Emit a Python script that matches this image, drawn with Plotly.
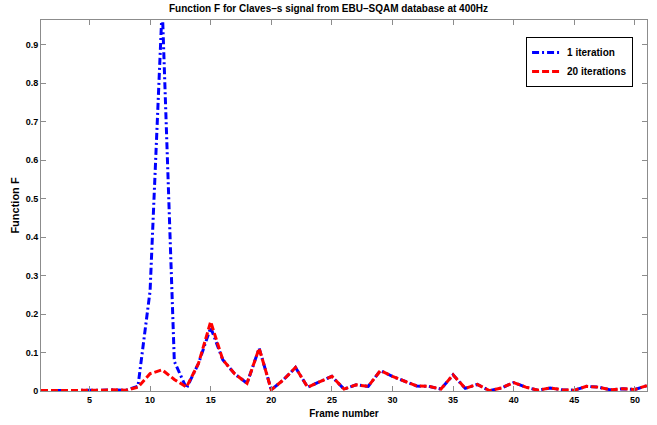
import plotly.graph_objects as go

frames = list(range(1, 52))
f_1iter = [0.001, 0.001, 0.001, 0.001, 0.002, 0.002, 0.003, 0.002, 0.012, 0.26,
           1.0, 0.077, 0.007, 0.072, 0.165, 0.081, 0.044, 0.02, 0.111, 0.003,
           0.029, 0.061, 0.01, 0.025, 0.038, 0.005, 0.016, 0.012, 0.053, 0.038,
           0.025, 0.013, 0.012, 0.005, 0.042, 0.007, 0.017, 0.001, 0.008, 0.022,
           0.01, 0.002, 0.008, 0.003, 0.002, 0.012, 0.01, 0.003, 0.006, 0.004, 0.014]
f_20iter = [0.001, 0.001, 0.001, 0.001, 0.002, 0.002, 0.003, 0.002, 0.01, 0.045,
            0.055, 0.03, 0.01, 0.072, 0.18, 0.081, 0.044, 0.02, 0.111, 0.003,
            0.029, 0.061, 0.01, 0.025, 0.038, 0.005, 0.016, 0.012, 0.053, 0.038,
            0.025, 0.013, 0.012, 0.005, 0.042, 0.007, 0.017, 0.001, 0.008, 0.022,
            0.01, 0.002, 0.008, 0.003, 0.002, 0.012, 0.01, 0.003, 0.006, 0.004, 0.014]
x_ticks = [5, 10, 15, 20, 25, 30, 35, 40, 45, 50]
y_ticks = [0, 0.1, 0.2, 0.3, 0.4, 0.5, 0.6, 0.7, 0.8, 0.9]
y_tick_labels = ["0", "0.1", "0.2", "0.3", "0.4", "0.5", "0.6", "0.7", "0.8", "0.9"]

FONT = "Liberation Sans, Arial, sans-serif"

fig = go.Figure()
fig.add_trace(go.Scatter(x=frames, y=f_1iter, mode="lines", name="1 iteration",
                         line=dict(color="#0000ff", width=3, dash="7px,3px,2px,3px")))
fig.add_trace(go.Scatter(x=frames, y=f_20iter, mode="lines", name="20 iterations",
                         line=dict(color="#ff0000", width=3, dash="7px,3px")))

axis_common = dict(showline=True, linecolor="#8c8c8c", linewidth=1, mirror="ticks",
                   ticks="inside", ticklen=5, tickcolor="#8c8c8c", showgrid=False,
                   zeroline=False, automargin=False,
                   tickfont=dict(family=FONT, size=9, color="black", weight="bold"))

fig.update_layout(
    template="none",
    width=657, height=425,
    margin=dict(l=41, r=10, t=20, b=34, autoexpand=False),
    paper_bgcolor="white", plot_bgcolor="white",
    title=dict(text="Function F for Claves–s signal from EBU–SQAM database at 400Hz",
               x=0.5, xref="container", xanchor="center",
               y=1 - 8 / 425, yref="container", yanchor="middle",
               font=dict(family=FONT, size=10, color="black", weight="bold")),
    xaxis=dict(range=[1, 51], tickvals=x_ticks, **axis_common,
               title=dict(text="Frame number", standoff=6,
                          font=dict(family=FONT, size=10, color="black", weight="bold"))),
    yaxis=dict(range=[0, 0.964], tickvals=y_ticks, ticktext=y_tick_labels, **axis_common,
               title=dict(text="Function F", standoff=3,
                          font=dict(family=FONT, size=11, color="black", weight="bold"))),
    legend=dict(x=0.977, y=0.954, xanchor="right", yanchor="top",
                bgcolor="white", bordercolor="black", borderwidth=1,
                font=dict(family=FONT, size=10, color="black", weight="bold"),
                itemwidth=30),
    showlegend=True,
)

fig.write_html("out.html", config={"displayModeBar": False},
               post_script="document.body.style.margin='0';")
